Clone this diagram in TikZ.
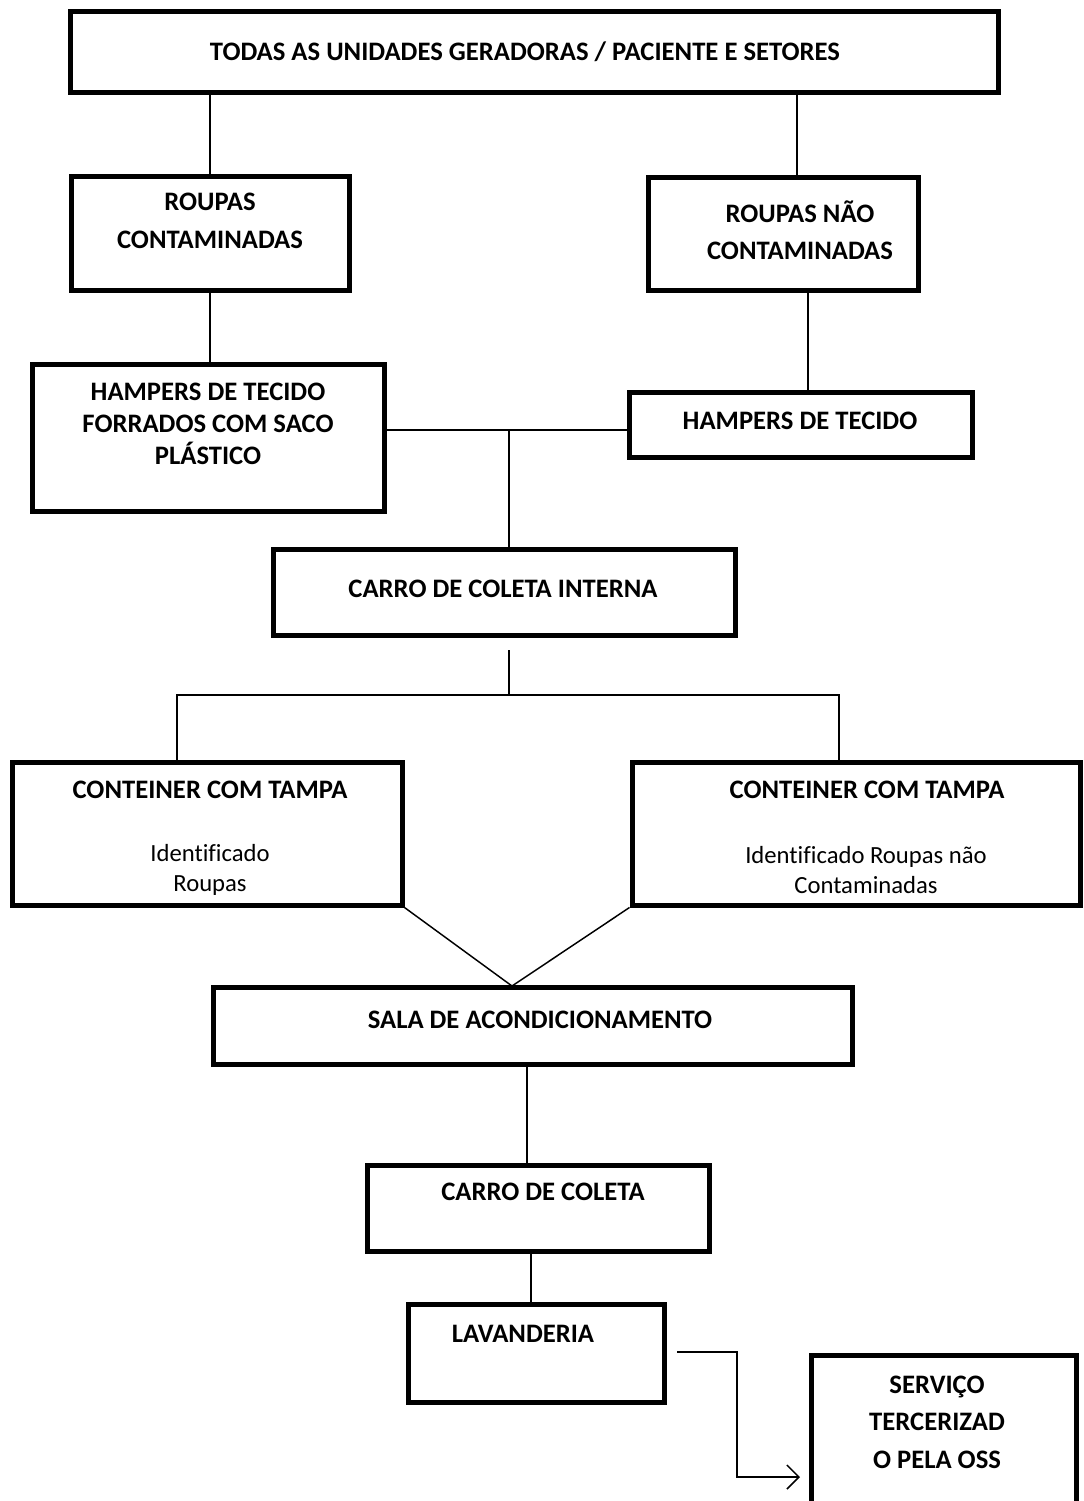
\documentclass[tikz,border=0pt]{standalone}
\usepackage{fontspec}
\setmainfont{Carlito}[Ligatures=NoCommon]
\usetikzlibrary{arrows.meta,fit}

\tikzset{
  box/.style={draw, line width=3.75pt, inner sep=0pt, fill=white},
  lbl/.style={font=\bfseries\fontsize{20}{28}\selectfont, align=center, inner sep=0pt},
  lbltight/.style={font=\bfseries\fontsize{20}{24}\selectfont, align=center, inner sep=0pt},
  txt/.style={font=\fontsize{18.5}{22.5}\selectfont, align=center, inner sep=0pt},
  link/.style={line width=1.6pt},
  slim/.style={line width=1.1pt}
}

\begin{document}
\begin{tikzpicture}[x=0.75pt,y=-0.75pt]
\useasboundingbox (0,0) rectangle (1083,1501);
\fill[white] (0,0) rectangle (1083,1501);
\clip (0,0) rectangle (1083,1501);

% boxes
\node[box, fit={(70,12) (998,93)}] (top) {};
\node[box, fit={(71,177) (349,291)}] (rc) {};
\node[box, fit={(648,178) (918,291)}] (rn) {};
\node[box, fit={(32,364) (384,511)}] (hl) {};
\node[box, fit={(629,392) (972,457)}] (hr) {};
\node[box, fit={(273,549) (735,635)}] (ci) {};
\node[box, fit={(12,762) (402,905)}] (cl) {};
\node[box, fit={(632,762) (1080,905)}] (cr) {};
\node[box, fit={(213,987) (852,1064)}] (sa) {};
\node[box, fit={(367,1165) (709,1251)}] (cc) {};
\node[box, fit={(408,1304) (664,1402)}] (lv) {};
\node[box, fit={(811,1355) (1076,1540)}] (sv) {};

% labels
\node[lbl] (ttop) at (525,52) {TODAS AS UNIDADES GERADORAS / PACIENTE E SETORES};
\node[lbl] (trc) at (210,221) {ROUPAS\\CONTAMINADAS};
\node[lbl] (trn) at (800,230) {ROUPAS NÃO\\CONTAMINADAS};
\node[lbltight] (thl) at (208,424) {HAMPERS DE TECIDO\\FORRADOS COM SACO\\PLÁSTICO};
\node[lbl] (thr) at (800,421) {HAMPERS DE TECIDO};
\node[lbl] (tci) at (503,589) {CARRO DE COLETA INTERNA};
\node[lbl] (tcl) at (210,790) {CONTEINER COM TAMPA};
\node[txt] (tcl2) at (210,870) {Identificado\\Roupas};
\node[lbl] (tcr) at (867,790) {CONTEINER COM TAMPA};
\node[txt] (tcr2) at (866,870) {Identificado Roupas não\\Contaminadas};
\node[lbl] (tsa) at (540,1020) {SALA DE ACONDICIONAMENTO};
\node[lbl] (tcc) at (543,1192) {CARRO DE COLETA};
\node[lbl] (tlv) at (523,1334) {LAVANDERIA};
\node[lbl] (tsv) at (937,1422) {SERVIÇO\\TERCERIZAD\\O PELA OSS};

% connectors
\draw[link] (top.south -| rc.north) -- (rc.north);
\draw[link] (top.south -| 797,0) -- (rn.north -| 797,0);
\draw[slim] (rc.south) -- (hl.north -| rc.south);
\draw[link] (rn.south -| 808,0) -- (hr.north -| 808,0);

\coordinate (j1) at (509,430);
\draw[slim] (hl.east |- j1) -- (hr.west |- j1);
\draw[slim] (j1) -- (j1 |- ci.north);

\coordinate (j2) at (509,650);
\coordinate (j3) at (509,695);
\draw[slim] (j2) -- (j3);
\draw[slim] (cl.north -| 177,0) -- (177,695) -- (839,695) -- (cr.north -| 839,0);

\coordinate (apex) at (512,986);
\draw[slim] (cl.south east) -- (apex) -- (cr.south west);

\draw[link] (sa.south -| 527,0) -- (cc.north -| 527,0);
\draw[link] (cc.south -| 531,0) -- (lv.north -| 531,0);

\coordinate (a0) at (677,1352);
\coordinate (a1) at (737,1352);
\coordinate (a2) at (800,1477);
\draw[slim, -{Straight Barb[length=9pt,width=18pt]}] (a0) -- (a1) |- (a2);

\end{tikzpicture}
\end{document}
